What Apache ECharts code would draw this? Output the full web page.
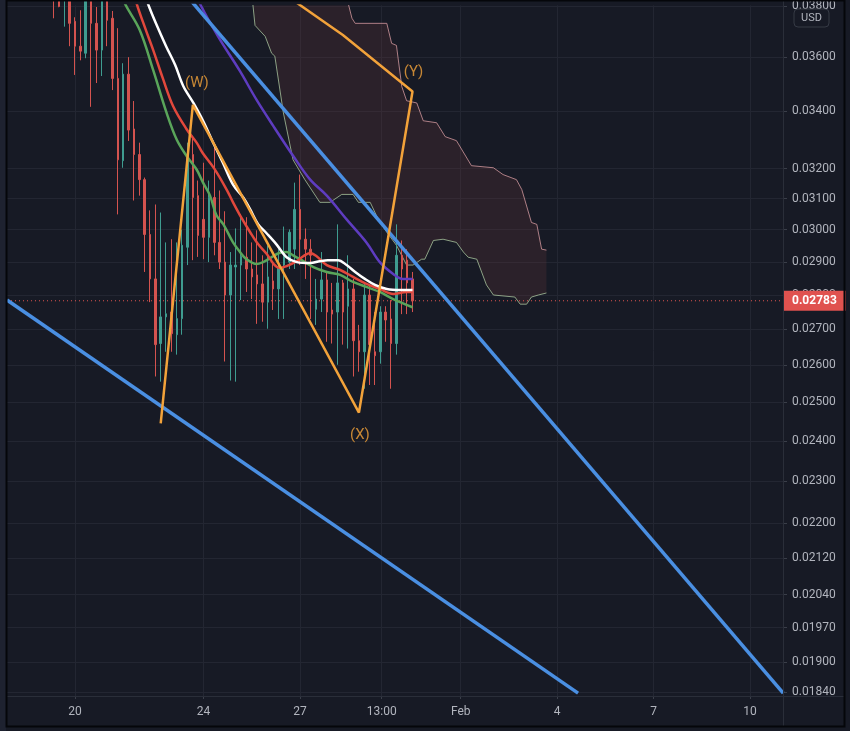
<!DOCTYPE html>
<html><head><meta charset="utf-8">
<script src="https://cdn.jsdelivr.net/npm/echarts@6/dist/echarts.min.js"></script>
<style>html,body{margin:0;padding:0;background:#1c1f2a;}#c{width:850px;height:731px;}</style>
</head><body><div id="c"></div>
<script>
// ---- data (bar index -> 4h bars starting Jan 19 08:00) ----
const candleOpen = [0.0395,0.0384,0.0383,0.0390,0.03739,0.03642,0.03615,0.0386,0.03731,0.03627,0.0385,0.03751,0.0352,0.03227,0.03536,0.03337,0.03248,0.03163,0.02985,0.02848,0.0266,0.02736,0.0275,0.02685,0.02731,0.02945,0.03248,0.0311,0.03033,0.02976,0.03104,0.0296,0.02899,0.028,0.02884,0.0289,0.02914,0.02878,0.0286,0.02833,0.02779,0.02842,0.02818,0.0289,0.02899,0.02939,0.03065,0.0297,0.02939,0.02758,0.02788,0.02845,0.02756,0.0275,0.02836,0.02767,0.02818,0.02668,0.02637,0.028,0.02637,0.02637,0.0275,0.0273,0.0266,0.0292,0.02905,0.02848];
const candleClose = [0.0385,0.03798,0.0390,0.03731,0.03642,0.03623,0.0384,0.03731,0.03627,0.0383,0.03743,0.0352,0.0323,0.03536,0.03333,0.03248,0.03163,0.02985,0.02848,0.02657,0.02736,0.02745,0.02688,0.02731,0.02951,0.03245,0.03104,0.02982,0.02976,0.03104,0.0296,0.02899,0.028,0.0289,0.0289,0.02917,0.02878,0.02854,0.02833,0.02779,0.02854,0.02818,0.02881,0.0293,0.02992,0.03065,0.0297,0.02939,0.0292,0.02788,0.02845,0.0275,0.02744,0.02836,0.0275,0.02818,0.02668,0.02637,0.028,0.02657,0.02626,0.0275,0.02727,0.0266,0.0292,0.02878,0.02836,0.02783];
const candleLow = [0.03751,0.03795,0.03718,0.03642,0.03533,0.03588,0.03596,0.03416,0.03503,0.03529,0.03642,0.03477,0.03049,0.03203,0.03295,0.03094,0.0311,0.02869,0.02779,0.02569,0.02555,0.02637,0.02637,0.02629,0.02685,0.0289,0.02905,0.02915,0.02908,0.02899,0.0292,0.02878,0.0261,0.02558,0.02555,0.02785,0.02809,0.02788,0.02716,0.02722,0.02702,0.02756,0.0273,0.0273,0.02878,0.02878,0.0289,0.02848,0.0273,0.02713,0.0275,0.02665,0.0266,0.02601,0.02657,0.02646,0.02569,0.02582,0.02536,0.02546,0.02546,0.02604,0.02665,0.02536,0.02629,0.02744,0.02744,0.0275];
const candleHigh = [0.0400,0.0390,0.0395,0.0395,0.03755,0.03783,0.0388,0.0390,0.03796,0.0388,0.0390,0.0378,0.03712,0.03577,0.0360,0.03437,0.03289,0.0317,0.03062,0.03081,0.03055,0.0296,0.0297,0.0296,0.0300,0.03289,0.03313,0.0316,0.0322,0.0316,0.03272,0.03127,0.03059,0.0293,0.03004,0.0305,0.0304,0.0296,0.02998,0.0292,0.02951,0.02899,0.02939,0.0301,0.03001,0.03153,0.0318,0.03004,0.0297,0.02848,0.0293,0.02869,0.02836,0.03017,0.02845,0.0292,0.02848,0.02713,0.02836,0.0283,0.0275,0.02767,0.02767,0.02785,0.03017,0.02966,0.02939,0.02869];

const maWhite = [[16.5,0.0388],[17.6,0.0381],[19.1,0.03731],[21,0.03642],[22.7,0.0357],[24.2,0.03492],[26.1,0.0343],[27.9,0.03366],[29.8,0.03289],[31.6,0.0322],[33.5,0.03146],[35.4,0.03104],[36.7,0.03065],[38.2,0.03017],[39.8,0.02988],[41.6,0.02954],[43.5,0.02914],[45.4,0.02899],[47.9,0.02896],[49.7,0.02902],[51.2,0.02905],[53.1,0.02905],[54.7,0.0289],[56.3,0.02869],[58.1,0.02848],[60,0.0283],[62.2,0.02818],[64.7,0.02815],[67,0.02815]];
const maRed = [[15,0.0386],[15.5,0.0381],[17.1,0.03712],[18.6,0.03627],[20.4,0.0352],[22.3,0.03419],[24.8,0.03337],[26.7,0.03289],[27.8,0.03254],[30,0.032],[32.3,0.0313],[33.5,0.03088],[35,0.0304],[36.7,0.02992],[38.2,0.02954],[39.8,0.02924],[41.1,0.02893],[42.3,0.02881],[43.5,0.02887],[45.4,0.02902],[46.6,0.02917],[47.9,0.02927],[49.1,0.02917],[51,0.0289],[53.5,0.02875],[55.9,0.02854],[58.4,0.02833],[60.9,0.02818],[63.4,0.02803],[65.9,0.02809],[67,0.02809]];
const maGreen = [[12.9,0.0384],[13.3,0.0381],[16.1,0.03704],[18.6,0.03551],[21.1,0.03394],[23,0.03299],[24.8,0.03244],[26.7,0.03197],[27.9,0.03153],[29.2,0.0311],[30.4,0.03046],[31.7,0.03017],[33.5,0.0296],[34.8,0.0293],[36,0.02908],[37.9,0.02893],[39.1,0.02899],[40.4,0.02911],[42.1,0.02927],[43.5,0.0293],[44.7,0.0292],[46,0.02908],[48.5,0.02884],[51,0.02869],[53.5,0.0286],[55.9,0.02839],[58.4,0.02824],[60.9,0.02809],[63.4,0.02788],[67,0.02764]];
const maPurple = [[26.5,0.0386],[27.3,0.0381],[30.7,0.0368],[34.8,0.03547],[37.9,0.03441],[41,0.03348],[44.7,0.03244],[47.9,0.03163],[51,0.0311],[54.7,0.03033],[58.4,0.0296],[60.9,0.02899],[63.4,0.02863],[65.2,0.02848],[67,0.02848]];

const cloudUpper = [[37,0.0398],[46,0.0394],[54.4,0.0383],[55,0.0381],[55.7,0.03751],[56.3,0.03731],[62.2,0.03731],[63.1,0.03653],[64,0.03645],[65,0.0349],[65.9,0.03438],[67.8,0.0343],[69,0.03366],[71.5,0.03359],[73.1,0.0331],[75.2,0.03296],[78,0.0321],[82.1,0.03203],[83.9,0.0318],[86.4,0.03163],[87.4,0.0313],[89.2,0.03023],[90.2,0.03017],[91.1,0.02939],[92,0.02936]];
const cloudLower = [[37,0.0385],[37.6,0.03723],[39.5,0.0368],[40.7,0.03615],[41.3,0.03604],[42.9,0.03394],[44.7,0.0323],[46.9,0.03163],[49.7,0.03088],[51.6,0.03088],[53.8,0.03114],[55.9,0.03114],[56.9,0.03088],[59.1,0.03088],[60.6,0.03033],[62.2,0.02992],[64,0.02951],[65.9,0.0289],[67.1,0.0289],[68.7,0.02908],[69.3,0.02908],[70.9,0.02966],[72.7,0.0297],[75.2,0.0296],[76.5,0.0293],[77.4,0.02914],[79,0.02908],[80.8,0.0283],[82.1,0.028],[86.1,0.02794],[87.1,0.02773],[88.3,0.02773],[89.2,0.02794],[90.5,0.028],[92,0.02806]];

const trendUpper = [[25.46,0.03826],[136.2,0.018385]];
const trendLower = [[-8.7,0.027854],[97.9,0.018385]];
const waveWXY = [[20,0.02445],[26,0.03423],[57,0.02473],[67,0.03472],[54,0.03685],[44,0.03834]];
const waveLabels = [null,'(W)','(X)','(Y)',null,null];

const priceTicks = [0.0184,0.019,0.0197,0.0204,0.0212,0.022,0.023,0.024,0.025,0.026,0.027,0.028,0.029,0.030,0.031,0.032,0.034,0.036,0.038];
const dateTicks = [20,24,27,29+13/24,32,35,38,41];
const dateTickLabels = ['20','24','27','13:00','Feb','4','7','10'];
const lastPrice = 0.02783;

// bar index -> day number (Jan 1 = 1, Feb 1 = 32)
const day = i => 19 + 1/3 + i/6;
const pts = arr => arr.map(p => [day(p[0]), p[1]]);
const X_MIN = 17.8845, X_MAX = 42.026;

const chart = echarts.init(document.getElementById('c'), null, {renderer:'canvas'});
const FONT = 'Roboto';
const AX = '#b2b5be';
const GRID = '#232632';

function ma(name, data, color, width){
  return {type:'line', name, data: pts(data), showSymbol:false, symbol:'none', smooth:0.35,
    lineStyle:{color, width}, clip:true, z:4, silent:true, animation:false};
}

const candles = candleOpen.map((o,i)=>[day(i), o, candleClose[i], candleLow[i], candleHigh[i]]);

chart.setOption({
  backgroundColor:'#171a25',
  animation:false,
  grid:{left:7, right:67, top:2, bottom:35},
  xAxis:{type:'value', min:X_MIN, max:X_MAX,
    axisLine:{show:true, lineStyle:{color:'#2a2e39'}},
    axisTick:{show:true, customValues:dateTicks, length:3, lineStyle:{color:'#3a3e49'}},
    axisLabel:{customValues:dateTicks, color:AX, fontFamily:FONT, fontSize:12, margin:10,
      formatter:v=>{const k=dateTicks.findIndex(d=>Math.abs(d-v)<1e-6);return k>=0?dateTickLabels[k]:'';}},
    splitLine:{show:true, lineStyle:{color:GRID, width:1}}},
  yAxis:{type:'log', logBase:10, min:0.018329, max:0.038024, position:'right',
    axisLine:{show:true, lineStyle:{color:'#2a2e39'}},
    axisTick:{show:true, customValues:priceTicks, length:4, lineStyle:{color:'#3a3e49'}},
    axisLabel:{customValues:priceTicks, color:AX, fontFamily:FONT, fontSize:12, margin:9,
      formatter:v=>Number(v).toFixed(5)},
    splitLine:{show:true, lineStyle:{color:GRID, width:1}}},
  graphic:[
    {type:'line', shape:{x1:783.5,y1:0,x2:783.5,y2:727}, style:{stroke:'#2a2e39', lineWidth:1}, z:50},
    {type:'line', shape:{x1:7,y1:696.5,x2:845,y2:696.5}, style:{stroke:'#2a2e39', lineWidth:1}, z:50},
    {type:'rect', shape:{x:794,y:9,width:35,height:18,r:4}, style:{fill:'#171a25', stroke:'#363a45', lineWidth:1}, z:60},
    {type:'text', x:811.5, y:18, style:{text:'USD', fill:AX, font:'11px Roboto', align:'center', verticalAlign:'middle'}, z:61},
    {type:'rect', shape:{x:0,y:0,width:6,height:731}, style:{fill:'#1e2230'}, z:70},
    {type:'rect', shape:{x:6.5,y:0.5,width:838,height:726}, style:{fill:null, stroke:'#05060a', lineWidth:2}, z:70}
  ],
  series:[
    {type:'custom', name:'cloud', clip:true, z:1, silent:true,
      data:[0],
      renderItem:(params, api)=>{
        const up = cloudUpper.map(p=>api.coord([day(p[0]), p[1]]));
        const lo = cloudLower.map(p=>api.coord([day(p[0]), p[1]])).reverse();
        return {type:'polygon', shape:{points: up.concat(lo)}, style:{fill:'rgba(110,60,60,0.24)'}};
      }},
    {type:'line', name:'cloudUpper', data:pts(cloudUpper), showSymbol:false, symbol:'none',
      lineStyle:{color:'rgba(222,160,166,0.75)', width:1}, z:2, clip:true, silent:true},
    {type:'line', name:'cloudLower', data:pts(cloudLower), showSymbol:false, symbol:'none',
      lineStyle:{color:'rgba(176,206,164,0.75)', width:1}, z:2, clip:true, silent:true},
    {type:'line', name:'lastPriceLine', data:[[X_MIN,lastPrice],[X_MAX,lastPrice]], showSymbol:false, symbol:'none',
      lineStyle:{color:'#e0544f', type:[1,3], width:1}, z:2, clip:false, silent:true,
      endLabel:{show:true, distance:1, formatter:()=>lastPrice.toFixed(5),
        backgroundColor:'#e0524f', color:'#ffffff', fontFamily:FONT, fontSize:12, fontWeight:'bold',
        padding:[4,9,4,8]}},
    {type:'candlestick', name:'price', data:candles, encode:{x:0, y:[1,2,3,4]},
      barWidth:2, clip:true, z:3,
      itemStyle:{color:'#3f9c90', color0:'#d4534f', borderColor:'#3f9c90', borderColor0:'#d4534f', borderWidth:1}},
    ma('maGreen', maGreen, '#5aa55a', 2.5),
    ma('maRed', maRed, '#e2483c', 2.5),
    ma('maWhite', maWhite, '#ffffff', 2.5),
    ma('maPurple', maPurple, '#5e3cc0', 2.5),
    {type:'line', name:'trendUpper', data:pts(trendUpper), showSymbol:false, symbol:'none',
      lineStyle:{color:'#4a8fe2', width:3.5}, z:6, clip:true, silent:true},
    {type:'line', name:'trendLower', data:pts(trendLower), showSymbol:false, symbol:'none',
      lineStyle:{color:'#4a8fe2', width:3.5}, z:6, clip:true, silent:true},
    {type:'line', name:'wave', data:pts(waveWXY), showSymbol:false, symbol:'none',
      lineStyle:{color:'#f2a23a', width:2.5}, z:7, clip:true, silent:true},
    {type:'scatter', name:'waveLabels', symbolSize:0, z:8, silent:true,
      data: waveWXY.map((p,k)=>{
        if(!waveLabels[k]) return null;
        const lab = waveLabels[k];
        const pos = lab==='(X)' ? 'bottom' : 'top';
        const dist = lab==='(W)' ? 14 : (lab==='(X)' ? 15 : 12);
        return {value:[day(p[0]), p[1]], label:{show:true, formatter:lab, position:pos, distance:dist,
          offset: lab==='(W)'?[4,0]:[1,0], color:'#f2a23a', fontFamily:FONT, fontSize:15}};
      }).filter(Boolean)}
  ]
});
</script></body></html>
